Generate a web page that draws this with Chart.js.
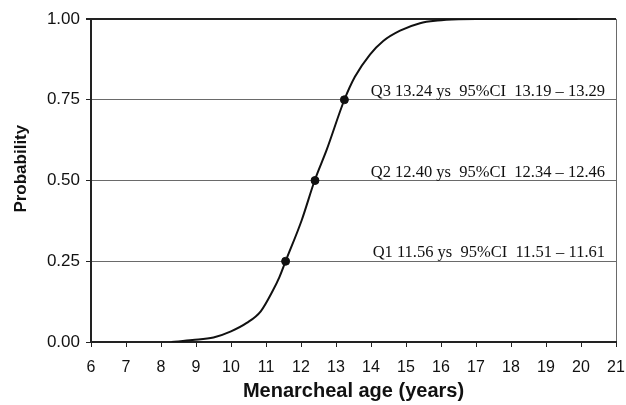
<!DOCTYPE html>
<html>
<head>
<meta charset="utf-8">
<script src="https://cdn.jsdelivr.net/npm/chart.js@4/dist/chart.umd.min.js"></script>
<style>
  html, body { margin: 0; padding: 0; background: #fff; }
  #wrap { width: 626px; height: 405px; }
</style>
</head>
<body>
<div id="wrap"><canvas id="c" width="626" height="405"></canvas></div>
<script>
// cumulative probability curve
const ages = [8.3, 8.9, 9.5, 10.0, 10.45, 10.85, 11.2, 11.38, 11.56, 12.02, 12.40, 12.73, 13.24, 13.54, 13.97, 14.35, 14.83, 15.4, 15.9, 16.5, 17.0, 19.9];
const probs = [0.0, 0.006, 0.014, 0.033, 0.059, 0.095, 0.16, 0.20, 0.25, 0.377, 0.503, 0.594, 0.75, 0.821, 0.89, 0.932, 0.964, 0.987, 0.995, 0.999, 1.0, 1.0];

// quartiles
const qNames = ['Q1', 'Q2', 'Q3'];
const qAges = [11.56, 12.40, 13.24];
const qProbs = [0.25, 0.50, 0.75];
const ciLow = [11.51, 12.34, 13.19];
const ciHigh = [11.61, 12.46, 13.29];

const xTitle = 'Menarcheal age (years)';
const yTitle = '     Probability';

const DARK = '#222';
const GRID = '#6a6a6a';

const curve = ages.map((a, i) => ({ x: a, y: probs[i] }));
const quart = qAges.map((a, i) => ({ x: a, y: qProbs[i] }));

const quartLabels = {
  id: 'quartLabels',
  afterDatasetsDraw(chart) {
    const { ctx, chartArea, scales } = chart;
    ctx.save();
    ctx.font = '16.5px "Liberation Serif", "Times New Roman", serif';
    ctx.fillStyle = '#111';
    ctx.textAlign = 'right';
    ctx.textBaseline = 'alphabetic';
    for (let i = 0; i < qNames.length; i++) {
      const y = scales.y.getPixelForValue(qProbs[i]);
      const txt = qNames[i] + ' ' + qAges[i].toFixed(2) + ' ys  95%CI  ' +
        ciLow[i].toFixed(2) + ' \u2013 ' + ciHigh[i].toFixed(2);
      ctx.fillText(txt, chartArea.right - 11, y - 4);
    }
    ctx.restore();
  }
};

new Chart(document.getElementById('c'), {
  type: 'scatter',
  data: {
    datasets: [
      {
        data: quart,
        showLine: false,
        pointRadius: 4,
        pointBackgroundColor: '#111',
        pointBorderColor: '#111'
      },
      {
        data: curve,
        showLine: true,
        borderColor: '#111',
        borderWidth: 2,
        pointRadius: 0,
        cubicInterpolationMode: 'monotone'
      }
    ]
  },
  options: {
    responsive: false,
    animation: false,
    layout: { padding: { top: 19, right: 0, left: 0, bottom: 0 } },
    plugins: { legend: { display: false }, tooltip: { enabled: false } },
    scales: {
      x: {
        type: 'linear',
        min: 6,
        max: 21,
        afterFit(s) { s.height = 63; s.paddingRight = 10; s.paddingLeft = 0; },
        ticks: {
          stepSize: 1,
          color: '#111',
          padding: 11,
          font: { family: '"Liberation Sans", Arial, sans-serif', size: 16 }
        },
        grid: {
          drawOnChartArea: true,
          color: (c) => c.tick && c.tick.value === 21 ? GRID : 'rgba(0,0,0,0)',
          tickColor: DARK,
          tickLength: 5
        },
        border: { color: DARK, width: 2 },
        title: {
          display: true,
          text: xTitle,
          color: '#111',
          padding: { top: 0, bottom: 2 },
          font: { family: '"Liberation Sans", Arial, sans-serif', size: 20, weight: 'bold' }
        }
      },
      y: {
        min: 0,
        max: 1,
        afterFit(s) { s.width = 91; },
        ticks: {
          stepSize: 0.25,
          color: '#111',
          padding: 6,
          callback: (v) => v.toFixed(2),
          font: { family: '"Liberation Sans", Arial, sans-serif', size: 17 }
        },
        grid: {
          color: (c) => c.tick && c.tick.value === 1 ? DARK : GRID,
          lineWidth: (c) => c.tick && c.tick.value === 1 ? 2 : 1,
          tickColor: DARK,
          tickLength: 5
        },
        border: { color: DARK, width: 2 },
        title: {
          display: true,
          text: yTitle,
          color: '#111',
          padding: { top: 11, bottom: 0 },
          font: { family: '"Liberation Sans", Arial, sans-serif', size: 17, weight: 'bold' }
        }
      }
    }
  },
  plugins: [quartLabels]
});
</script>
</body>
</html>
